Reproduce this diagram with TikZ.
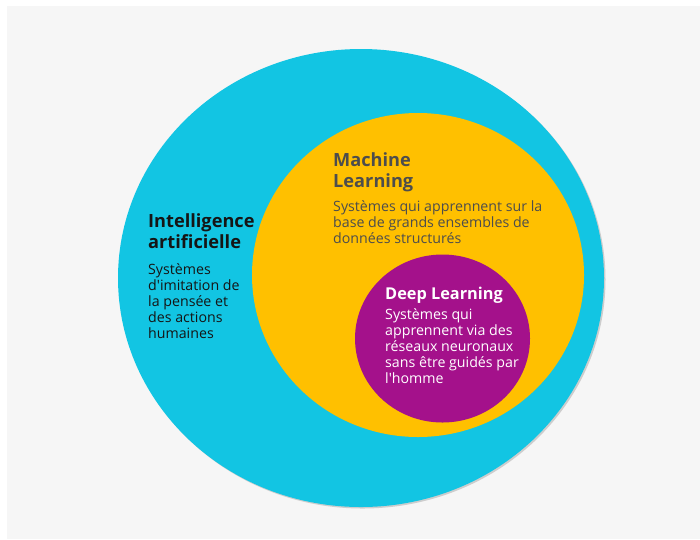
\documentclass[tikz,border=0pt]{standalone}
\usepackage{fontspec}
\setmainfont{Open Sans}
\definecolor{bgcol}{HTML}{F6F6F6}
\definecolor{aicol}{HTML}{12C5E3}
\definecolor{mlcol}{HTML}{FFC000}
\definecolor{dlcol}{HTML}{A4118B}
\definecolor{mltext}{HTML}{4D4D4D}
\definecolor{aitext}{HTML}{151515}
\tikzset{
  head/.style={anchor=base west, inner sep=0pt, font=\fontsize{18.2}{21}\selectfont\bfseries},
  body/.style={anchor=base west, inner sep=0pt, font=\fontsize{14.2}{16}\selectfont},
}
\begin{document}
\begin{tikzpicture}[x=1pt,y=-1pt]
\useasboundingbox (0,0) rectangle (700,539);
\fill[white] (0,0) rectangle (700,539);
\fill[bgcol] (7,6) rectangle (700,539);
% outer ellipse with faint shadow
\fill[black!30, opacity=0.6] (362.5,279.5) ellipse [x radius=243pt, y radius=229pt];
\fill[aicol] (361,278) ellipse [x radius=243pt, y radius=229pt];
\node[inner sep=0pt] (ai) at (361,278) {};
% machine learning circle
\fill[mlcol] (418,275) ellipse [x radius=166pt, y radius=162pt];
\node[inner sep=0pt] (ml) at (418,275) {};
% deep learning circle
\fill[dlcol] (442.5,338.5) ellipse [x radius=87.5pt, y radius=84pt];
\node[inner sep=0pt] (dl) at (442.5,338.5) {};
% AI text
\node[head, text=aitext] (aih1) at (148,227) {Intelligence};
\node[head, text=aitext] (aih2) at (148,248) {artificielle};
\node[body, text=aitext] (aib1) at (148,274) {Systèmes};
\node[body, text=aitext] (aib2) at (148,290) {d\textquotesingle imitation de};
\node[body, text=aitext] (aib3) at (148,306) {la pensée et};
\node[body, text=aitext] (aib4) at (148,322) {des actions};
\node[body, text=aitext] (aib5) at (148,338) {humaines};
% ML text
\node[head, text=mltext] (mlh1) at (333,166) {Machine};
\node[head, text=mltext] (mlh2) at (333,187) {Learning};
\node[body, text=mltext] (mlb1) at (333,211) {Systèmes qui apprennent sur la};
\node[body, text=mltext] (mlb2) at (333,227) {base de grands ensembles de};
\node[body, text=mltext] (mlb3) at (333,243) {données structurés};
% DL text
\node[head, text=white, font=\fontsize{16.3}{20}\selectfont\bfseries] (dlh1) at (385,299) {Deep Learning};
\node[body, text=white] (dlb1) at (385,319) {Systèmes qui};
\node[body, text=white] (dlb2) at (385,335) {apprennent via des};
\node[body, text=white] (dlb3) at (385,351) {réseaux neuronaux};
\node[body, text=white] (dlb4) at (385,367) {sans être guidés par};
\node[body, text=white] (dlb5) at (385,383) {l\textquotesingle homme};
\end{tikzpicture}
\end{document}
